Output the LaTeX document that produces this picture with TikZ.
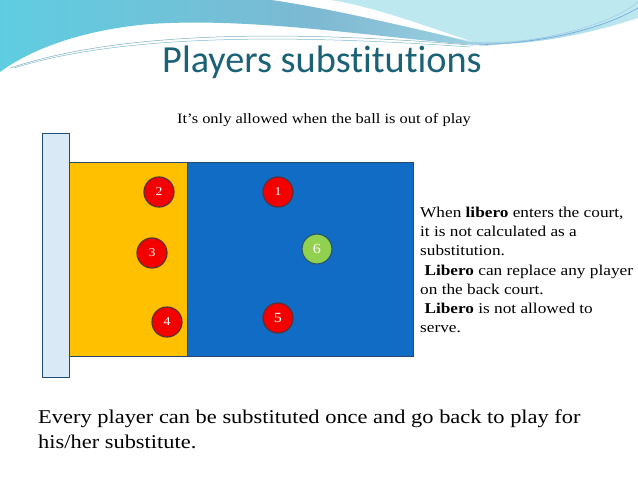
\documentclass[tikz,border=0pt]{standalone}
\usepackage{fontspec}
\setmainfont{Liberation Serif}[FakeStretch=1.15]
\newfontfamily\titlefont{Carlito}[Ligatures=NoCommon]
\definecolor{titleblue}{RGB}{27,98,118}
\definecolor{hdrdark}{RGB}{125,185,210}
\definecolor{hdrcyan}{RGB}{95,205,225}
\definecolor{hdrpale}{RGB}{190,232,240}
\definecolor{postfill}{RGB}{218,233,246}
\definecolor{postline}{RGB}{31,78,121}
\definecolor{courtyellow}{RGB}{255,192,0}
\definecolor{courtblue}{RGB}{16,108,196}
\definecolor{courtline}{RGB}{40,72,110}
\definecolor{playred}{RGB}{245,0,0}
\definecolor{playline}{RGB}{90,50,55}
\definecolor{libgreen}{RGB}{146,208,80}
\definecolor{libline}{RGB}{40,90,110}
\begin{document}
\begin{tikzpicture}[x=1pt,y=-1pt,
  player/.style={circle,minimum size=30pt,inner sep=0pt,fill=playred,draw=playline,line width=1.2pt,text=white,font=\fontsize{12}{12}\selectfont},
  libero/.style={player,fill=libgreen,draw=libline,font=\fontsize{14}{14}\selectfont},
  rtext/.style={anchor=base west,inner sep=0pt,font=\fontsize{15}{17}\selectfont},
  btext/.style={anchor=base west,inner sep=0pt,font=\fontsize{19.5}{24}\selectfont}]
\useasboundingbox (0,0) rectangle (638,479);
\fill[white] (0,0) rectangle (638,479);
% header
\shade[left color=hdrcyan,right color=hdrpale,middle color=hdrdark]
  (0,0) -- (638,0) -- (638,18) .. controls (570,40) and (510,48) .. (450,43)
  .. controls (340,32) and (240,18) .. (150,24) .. controls (80,30) and (30,50) .. (0,72) -- cycle;
\fill[hdrpale] (300,0) -- (638,0) -- (638,10) .. controls (580,35) and (520,44) .. (470,42)
  .. controls (420,30) and (360,8) .. (300,0) -- cycle;
\fill[white] (272,0) .. controls (340,10) and (410,28) .. (470,41)
  .. controls (420,24) and (370,6) .. (330,0) -- cycle;
\draw[hdrdark!80!gray,line width=0.5pt] (10,68) .. controls (110,35) and (260,28) .. (470,45);
\draw[hdrdark,line width=0.5pt] (14,68) .. controls (110,38) and (260,32) .. (470,47);
\draw[courtblue!60,line width=0.6pt] (470,45) .. controls (540,44) and (600,30) .. (638,8);
\draw[courtblue!40,line width=0.4pt] (480,46) .. controls (550,40) and (610,25) .. (638,2);
% title
\node[anchor=base,inner sep=0pt,text=titleblue,font=\titlefont\fontsize{38.3}{39}\selectfont] (title) at (322,72) {Players substitutions};
\node[anchor=base,inner sep=0pt,font=\fontsize{14.3}{16}\selectfont] (sub) at (324,123) {It’s only allowed when the ball is out of play};
% court
\draw[fill=postfill,draw=postline,line width=1pt] (42,133) rectangle (69,377);
\draw[fill=courtyellow,draw=courtline,line width=1pt] (69,162) rectangle (187,356);
\draw[fill=courtblue,draw=courtline,line width=1pt] (187,162) rectangle (413,356);
% players
\node[player] (p2) at (159,192) {2};
\node[player] (p3) at (152,253) {3};
\node[player] (p4) at (167,322) {4};
\node[player] (p1) at (278,192) {1};
\node[libero] (p6) at (317,249) {6};
\node[player,font=\fontsize{14}{14}\selectfont] (p5) at (278,318) {5};
% right text
\node[rtext] (r1) at (420,217) {When \textbf{libero} enters the court,};
\node[rtext] (r2) at (420,236) {it is not calculated as a};
\node[rtext] (r3) at (420,255) {substitution.};
\node[rtext] (r4) at (420,275) {\ \textbf{Libero} can replace any player};
\node[rtext] (r5) at (420,294) {on the back court.};
\node[rtext] (r6) at (420,313) {\ \textbf{Libero} is not allowed to};
\node[rtext] (r7) at (420,332) {serve.};
% bottom text
\node[btext] (b1) at (38,423) {Every player can be substituted once and go back to play for};
\node[btext] (b2) at (38,448) {his/her substitute.};
\end{tikzpicture}
\end{document}
